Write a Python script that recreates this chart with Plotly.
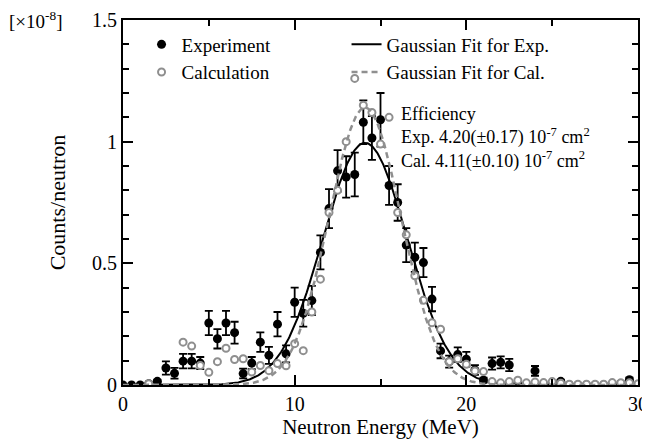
import plotly.graph_objects as go
import numpy as np

# ---------------- data ----------------
exp_energy = [0.0, 0.5, 1.0, 1.5, 2.0, 2.5, 3.0, 3.5, 4.0, 4.5, 5.0, 5.5, 6.0, 6.5, 7.0, 7.5,
              8.0, 8.5, 9.0, 9.5, 10.0, 10.5, 11.0, 11.5, 12.0, 12.5, 13.0, 13.5, 14.0, 14.5,
              15.0, 15.5, 16.0, 16.5, 17.0, 17.5, 18.0, 18.5, 19.0, 19.5, 20.0, 20.5, 21.0,
              21.5, 22.0, 22.5, 23.0, 23.5, 24.0, 24.5, 25.0, 25.5, 26.0, 26.5, 27.0, 27.5,
              28.0, 28.5, 29.0, 29.5]
exp_counts = [0.0, 0.0, 0.0, 0.005, 0.015, 0.07, 0.048, 0.098, 0.098, 0.09, 0.255, 0.19, 0.255,
              0.215, 0.047, 0.09, 0.176, 0.122, 0.25, 0.128, 0.34, 0.295, 0.347, 0.545, 0.725,
              0.88, 0.855, 0.865, 1.08, 1.015, 1.09, 0.82, 0.75, 0.575, 0.525, 0.503, 0.353,
              0.14, 0.096, 0.125, 0.106, 0.062, 0.02, 0.088, 0.093, 0.082, 0.005, 0.0, 0.058,
              0.0, 0.005, 0.015, 0.0, 0.0, 0.0, 0.0, 0.0, 0.0, 0.006, 0.022]
exp_error = [0.0, 0.0, 0.0, 0.003, 0.006, 0.027, 0.022, 0.03, 0.03, 0.025, 0.05, 0.04, 0.05,
             0.045, 0.02, 0.025, 0.04, 0.035, 0.05, 0.035, 0.06, 0.055, 0.06, 0.07, 0.08,
             0.085, 0.085, 0.09, 0.09, 0.09, 0.11, 0.08, 0.075, 0.07, 0.06, 0.06, 0.05,
             0.03, 0.025, 0.03, 0.03, 0.02, 0.01, 0.025, 0.025, 0.025, 0.004, 0.0, 0.02,
             0.0, 0.004, 0.006, 0.0, 0.0, 0.0, 0.0, 0.0, 0.0, 0.004, 0.008]

cal_energy = [1.5, 3.5, 4.0, 4.5, 5.0, 5.5, 6.0, 6.5, 7.0, 7.5, 8.0, 8.5, 9.0, 9.5, 10.0, 10.5,
              11.0, 11.5, 12.0, 12.5, 13.0, 13.5, 14.0, 14.5, 15.0, 15.5, 16.0, 16.5, 17.0,
              17.5, 18.0, 18.5, 19.0, 19.5, 20.0, 20.5, 21.0, 21.5, 22.0, 22.5, 23.0, 23.5,
              24.0, 24.5, 25.0, 25.5, 26.0, 26.5, 27.0, 27.5, 28.0, 28.5, 29.0, 29.5, 30.0]
cal_counts = [0.005, 0.176, 0.16, 0.08, 0.052, 0.096, 0.151, 0.105, 0.108, 0.053, 0.08, 0.059,
              0.088, 0.079, 0.17, 0.141, 0.3, 0.435, 0.709, 0.8, 1.0, 1.26, 1.15, 1.12, 0.99,
              1.1, 0.709, 0.617, 0.449, 0.348, 0.256, 0.229, 0.096, 0.108, 0.085, 0.058, 0.055,
              0.014, 0.009, 0.014, 0.02, 0.009, 0.012, 0.01, 0.014, 0.007, 0.003, 0.003, 0.003,
              0.003, 0.003, 0.01, 0.009, 0.009, 0.005]

# Gaussian fit parameters (amplitude, centre MeV, sigma MeV)
fit_exp = dict(amp=0.995, mu=14.1, sigma=2.45)
fit_cal = dict(amp=1.14, mu=14.1, sigma=2.1)

x_ticks = [0, 10, 20, 30]
y_ticks = [0, 0.5, 1, 1.5]
y_tick_labels = ["0", "0.5", "1", "1.5"]

# ---------------- figure ----------------
FONT = "Liberation Serif, Times New Roman, serif"
e_grid = np.linspace(0, 30, 601)

def gauss(p):
    return p["amp"] * np.exp(-(e_grid - p["mu"]) ** 2 / (2 * p["sigma"] ** 2))

fig = go.Figure()
fig.add_trace(go.Scatter(
    x=exp_energy, y=exp_counts, mode="markers", name="Experiment",
    marker=dict(color="black", size=9),
    error_y=dict(type="data", array=exp_error, color="black", thickness=1.8, width=4),
))
fig.add_trace(go.Scatter(
    x=e_grid, y=gauss(fit_exp), mode="lines", name="Gaussian Fit for Exp.",
    line=dict(color="black", width=2),
))
fig.add_trace(go.Scatter(
    x=cal_energy, y=cal_counts, mode="markers", name="Calculation",
    marker=dict(color="white", size=7, line=dict(color="#8f8f8f", width=2)),
))
fig.add_trace(go.Scatter(
    x=e_grid, y=gauss(fit_cal), mode="lines", name="Gaussian Fit for Cal.",
    line=dict(color="#8f8f8f", width=2.5, dash="6px,4px"),
))

axis_common = dict(
    showline=True, linecolor="black", linewidth=2, mirror="ticks",
    ticks="inside", tickcolor="black", tickwidth=2, ticklen=10,
    showgrid=False, zeroline=False, automargin=False,
    tickfont=dict(family=FONT, size=20, color="black"),
)

fig.update_xaxes(
    range=[0, 30], tickvals=x_ticks, ticktext=[str(v) for v in x_ticks],
    minor=dict(ticks="inside", ticklen=6, tickwidth=1.5, tickcolor="black", dtick=5, showgrid=False),
    title=dict(text="Neutron Energy (MeV)", font=dict(family=FONT, size=21, color="black"), standoff=2),
    **axis_common,
)
fig.update_yaxes(
    range=[0, 1.5], tickvals=y_ticks, ticktext=y_tick_labels,
    minor=dict(ticks="inside", ticklen=6, tickwidth=1.5, tickcolor="black", dtick=0.1, showgrid=False),
    title=dict(text="Counts/neutron", font=dict(family=FONT, size=22, color="black"), standoff=20),
    **axis_common,
)

fig.add_annotation(
    xref="paper", yref="paper", x=-0.225, y=1.0, xanchor="left", yanchor="middle",
    text="[×10<sup>-8</sup>]", showarrow=False,
    font=dict(family=FONT, size=19, color="black"),
)
fig.add_annotation(
    xref="x", yref="y", x=16.1, y=1.165, xanchor="left", yanchor="top", align="left",
    text="Efficiency<br>Exp. 4.20(±0.17) 10<sup>-7</sup> cm<sup>2</sup>"
         "<br>Cal. 4.11(±0.10) 10<sup>-7</sup> cm<sup>2</sup>",
    showarrow=False, font=dict(family=FONT, size=18, color="black"),
)

# the page body adds an 8px offset, so the figure is 8px smaller on each side
fig.update_layout(
    width=642, height=437,
    margin=dict(l=115, r=12, t=12, b=60, autoexpand=False),
    paper_bgcolor="white", plot_bgcolor="white",
    showlegend=True,
    legend=dict(
        orientation="h", x=0.036, y=0.985, xanchor="left", yanchor="top",
        entrywidth=160, entrywidthmode="pixels", tracegroupgap=0,
        bgcolor="rgba(0,0,0,0)", font=dict(family=FONT, size=19, color="black"),
    ),
)

fig.write_html("out.html")
